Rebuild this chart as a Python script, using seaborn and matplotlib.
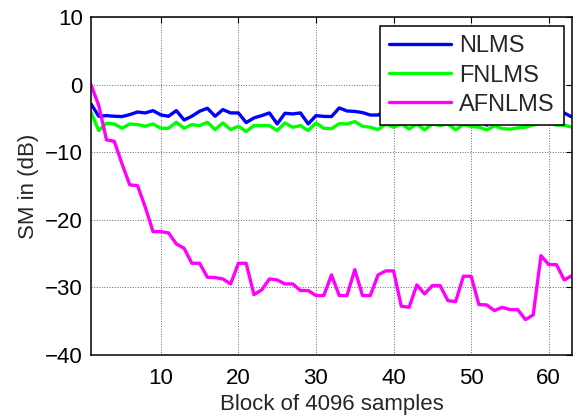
import numpy as np
import pandas as pd
import matplotlib
matplotlib.use("Agg")
import matplotlib.pyplot as plt
import seaborn as sns

# Block index (each block = 4096 samples)
blocks = list(range(1, 64))

nlms = [-2.86, -4.68, -4.59, -4.68, -4.73, -4.44, -4.05, -4.19, -3.85, -4.49,
        -4.68, -3.85, -5.23, -4.68, -3.94, -3.50, -4.68, -3.70, -4.19, -4.19,
        -5.62, -4.93, -4.59, -4.19, -5.82, -4.24, -4.34, -4.19, -5.82, -4.59,
        -4.70, -4.73, -3.45, -3.90, -3.97, -4.14, -4.50, -4.50, -3.90, -4.30,
        -4.60, -4.20, -4.80, -4.40, -4.10, -4.70, -4.30, -4.50, -4.00, -4.60,
        -4.90, -6.00, -4.70, -4.40, -4.80, -4.20, -4.50, -4.90, -4.30, -4.60,
        -4.40, -4.20, -4.80]

fnlms = [-4.10, -6.80, -5.72, -5.82, -6.46, -5.82, -5.92, -6.16, -5.82, -6.46,
         -6.46, -5.57, -6.46, -5.92, -6.07, -5.57, -6.66, -5.67, -6.66, -6.16,
         -6.95, -6.07, -6.07, -6.07, -6.80, -5.67, -6.31, -6.07, -6.80, -5.67,
         -6.46, -6.52, -5.78, -5.82, -5.47, -6.16, -6.31, -6.66, -5.82, -6.31,
         -5.82, -6.56, -5.82, -6.70, -5.82, -6.06, -5.80, -6.70, -5.90, -6.20,
         -6.30, -6.70, -6.10, -6.50, -6.60, -6.40, -6.30, -6.00, -5.70, -5.70,
         -6.00, -6.00, -6.30]

afnlms = [0.00, -3.10, -8.18, -8.38, -11.73, -14.84, -14.94, -18.15, -21.75, -21.75,
          -21.94, -23.57, -24.21, -26.43, -26.43, -28.50, -28.55, -28.75, -29.49, -26.43,
          -26.43, -31.07, -30.38, -28.75, -28.90, -29.49, -29.49, -30.47, -30.47, -31.21,
          -31.21, -28.16, -31.21, -31.21, -27.37, -31.21, -31.21, -28.16, -27.56, -27.56,
          -32.79, -32.94, -29.63, -30.97, -29.73, -29.73, -31.95, -32.10, -28.35, -28.35,
          -32.54, -32.59, -33.43, -32.94, -33.28, -33.28, -34.76, -34.07, -25.30, -26.63,
          -26.63, -28.90, -28.25]

methods = ["NLMS", "FNLMS", "AFNLMS"]
colors = ["#0000ff", "#00ff00", "#ff00ff"]

df = pd.DataFrame({
    "block": blocks * 3,
    "sm": nlms + fnlms + afnlms,
    "method": [m for m in methods for _ in blocks],
})

sns.set_style("white")
plt.rcParams["font.family"] = ["Liberation Sans", "DejaVu Sans"]

fig = plt.figure(figsize=(5.74, 4.16), dpi=100)
ax = fig.add_axes([91 / 574, 1 - 355 / 416, 481 / 574, 338 / 416])

sns.lineplot(data=df, x="block", y="sm", hue="method", hue_order=methods,
             palette=colors, linewidth=2.4, ax=ax, legend=False)

ax.set_xlim(1, 63)
ax.set_ylim(-40, 10)
ax.set_xticks([10, 20, 30, 40, 50, 60])
ax.set_yticks([-40, -30, -20, -10, 0, 10])
ax.grid(True, linestyle=":", color="#666666", linewidth=0.7)
ax.tick_params(direction="in", length=4, width=0.8, top=True, right=True,
               labelsize=16, colors="black")
ax.tick_params(axis="x", pad=9)
ax.tick_params(axis="y", pad=6)
for s in ax.spines.values():
    s.set_visible(True)
    s.set_color("black")
    s.set_linewidth(1.1)

ax.set_xlabel("Block of 4096 samples", fontsize=16, labelpad=4)
ax.set_ylabel("SM in (dB)", fontsize=16, labelpad=4)

handles = [plt.Line2D([], [], color=c, linewidth=2.4) for c in colors]
leg = fig.legend(handles, methods, loc="upper right",
                 bbox_to_anchor=(564 / 574, 1 - 26 / 416), fontsize=17,
                 frameon=True, fancybox=False, edgecolor="black",
                 framealpha=1, handlelength=2.6, handletextpad=0.35,
                 labelspacing=0.3, borderpad=0.4, borderaxespad=0)
leg.get_frame().set_linewidth(1.1)

fig.savefig("out.png", dpi=100)
